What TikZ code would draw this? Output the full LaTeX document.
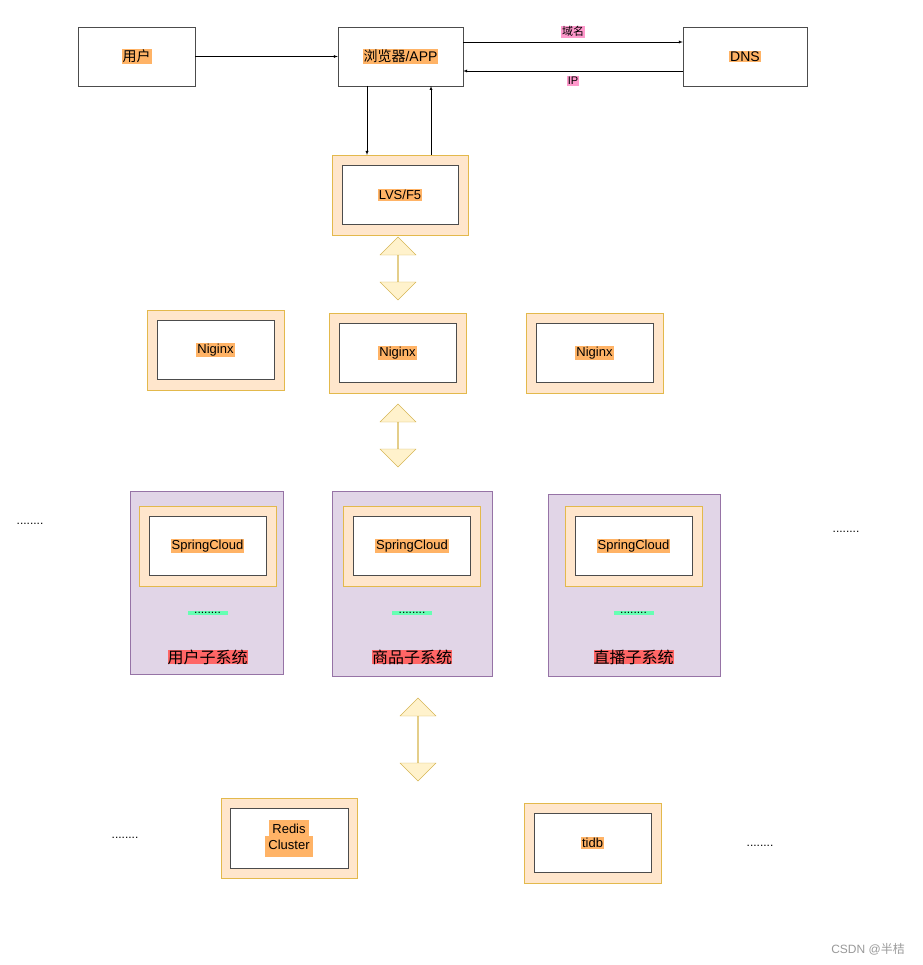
\documentclass[tikz,border=0pt]{standalone}
\usepackage{fontspec}
\setmainfont{Liberation Sans}
\newfontfamily\cjk{Noto Sans CJK SC}
\usetikzlibrary{shapes.arrows}
\definecolor{ob}{HTML}{FFE6CC}
\definecolor{od}{HTML}{D79B00}
\definecolor{hl}{HTML}{FFB366}
\definecolor{pu}{HTML}{E1D5E7}
\definecolor{pud}{HTML}{9673A6}
\definecolor{ye}{HTML}{FFF2CC}
\definecolor{yed}{HTML}{D6B656}
\definecolor{pk}{HTML}{FF99CC}
\definecolor{gr}{HTML}{66FFB3}
\definecolor{rd}{HTML}{FF6666}
\begin{document}
\begin{tikzpicture}[x=1pt,y=-1pt,
 hl/.style={fill=hl,inner sep=1pt,font=\fontsize{14}{16}\selectfont},
 wbox/.style={draw=black!70,fill=white},
 obox/.style={draw=od!70,fill=ob,line width=0.8pt},
 pbox/.style={draw=pud,fill=pu},
 darr/.style={double arrow,draw=yed,fill=ye,rotate=90,minimum width=36pt,double arrow head extend=9pt,inner sep=0pt,text width=0pt},
 ar/.style={-latex,black}]
\useasboundingbox (0,0) rectangle (922,965);
\newcommand\dbox[9]{%
 \filldraw[obox] (#1,#2) rectangle (#3,#4);
 \filldraw[wbox] (#5,#6) rectangle (#7,#8);
 #9}
% top row
\node[draw=black!70,fill=white,minimum width=117pt,minimum height=59pt] (u) at (136.5,56.5) {};
\node[hl] at (u) {\cjk 用户};
\node[draw=black!70,fill=white,minimum width=125pt,minimum height=59pt] (b) at (400.5,56.5) {};
\node[hl] at (b) {\cjk 浏览器\rmfamily/APP};
\node[draw=black!70,fill=white,minimum width=124pt,minimum height=59pt] (d) at (745,56.5) {};
\node[hl] at (d) {DNS};
\draw[ar] (u.east) -- (b.west);
\draw[ar] (b.east|-0,42) -- node[above=4pt,fill=pk,inner sep=1pt,font=\cjk\fontsize{11}{12}\selectfont]{域名} (d.west|-0,42);
\draw[ar] (d.west|-0,71) -- node[below=5pt,fill=pk,inner sep=1pt,font=\fontsize{11}{12}\selectfont]{IP} (b.east|-0,71);
% LVS
\node[obox,minimum width=136pt,minimum height=80pt] (lvs) at (400,195) {};
\node[wbox,minimum width=116pt,minimum height=59pt] at (lvs) {};
\node[hl,font=\fontsize{13}{15}\selectfont] at (lvs) {LVS/F5};
\draw[ar] (367,86) -- (367,155);
\draw[ar] (431,155) -- (431,86);
\node[darr,minimum height=63pt] (a1) at (398,268.5) {};
% Nginx
\foreach \n/\x/\y in {n1/215.5/350,n2/397.5/353,n3/594.5/353}{
 \node[obox,minimum width=137pt,minimum height=80pt] (\n) at (\x,\y) {};
 \node[wbox,minimum width=117pt,minimum height=59pt] at (\n) {};
 \node[hl,font=\fontsize{13}{15}\selectfont] at (\n) {Niginx};}
\node[darr,minimum height=63pt] (a2) at (398,435.5) {};
% subsystems
\foreach \n/\xa/\ya/\xb/\yb/\sx/\t in {s1/130/491/283/674/207.5/用户子系统,s2/332/491/492/676/412/商品子系统,s3/548/494/720/676/633.5/直播子系统}{
 \filldraw[pbox] (\xa,\ya) rectangle (\xb,\yb);
 \node[obox,minimum width=137pt,minimum height=80pt] (\n) at (\sx,546) {};
 \node[wbox,minimum width=117pt,minimum height=59pt] at (\n) {};
 \node[hl,font=\fontsize{13}{15}\selectfont] at (\n) {SpringCloud};
 \node[fill=gr,inner sep=1pt,minimum width=40pt,font=\fontsize{12}{12}\selectfont] at (\sx,613) {........};
 \node[fill=rd,inner sep=0pt,font=\cjk\fontsize{16}{18}\selectfont] at (\sx,657) {\t};}
\node[darr,minimum height=83pt] (a3) at (418,739.5) {};
% bottom
\node[obox,minimum width=136pt,minimum height=80pt] (rc) at (289,838) {};
\node[wbox,minimum width=118pt,minimum height=60pt] at (rc) {};
\node[font=\fontsize{13}{15}\selectfont,align=center,inner sep=0pt] at (rc) {\colorbox{hl}{\strut Redis}\\[-6pt]\colorbox{hl}{\strut Cluster}};
\node[obox,minimum width=137pt,minimum height=80pt] (td) at (592.5,843) {};
\node[wbox,minimum width=117pt,minimum height=59pt] at (td) {};
\node[hl,font=\fontsize{13}{15}\selectfont] at (td) {tidb};
% dots
\foreach \x/\y in {30/524,846/532,125/838,760/846}
 \node[font=\fontsize{12}{12}\selectfont] at (\x,\y) {........};
\node[text=black!40,font=\fontsize{12}{14}\selectfont] at (868,949) {CSDN @{\cjk 半桔}};
\end{tikzpicture}
\end{document}
